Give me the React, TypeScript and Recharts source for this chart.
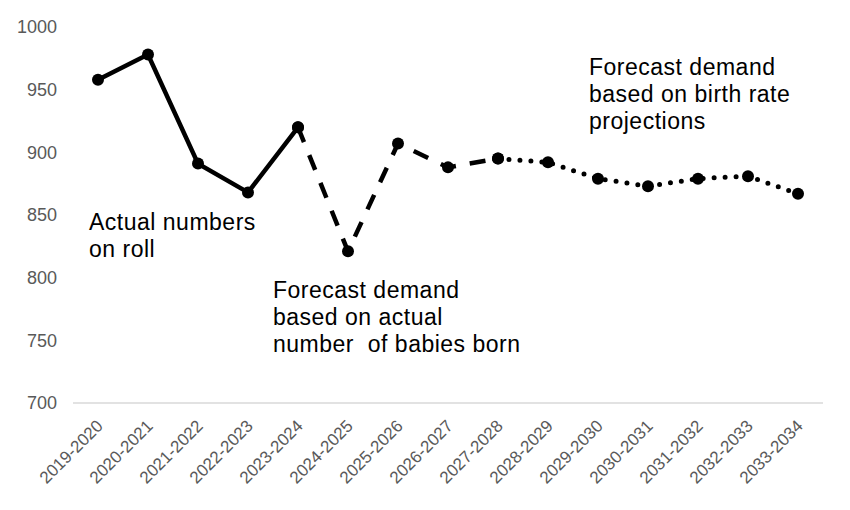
import React from 'react';
import { LineChart, Line, XAxis, YAxis } from 'recharts';

const categories = ['2019-2020','2020-2021','2021-2022','2022-2023','2023-2024','2024-2025','2025-2026','2026-2027','2027-2028','2028-2029','2029-2030','2030-2031','2031-2032','2032-2033','2033-2034'];
const actualRoll = [958, 978, 891, 868, 920, null, null, null, null, null, null, null, null, null, null];
const forecastBabies = [null, null, null, null, 920, 821, 907, 888, 895, null, null, null, null, null, null];
const forecastProjections = [null, null, null, null, null, null, null, null, 895, 892, 879, 873, 879, 881, 867];
const yTicks = [700, 750, 800, 850, 900, 950, 1000];

const data = categories.map((c, i) => ({
  cat: c,
  actual: actualRoll[i],
  babies: forecastBabies[i],
  proj: forecastProjections[i],
}));

const FONT = '"Liberation Sans", Arial, sans-serif';

const Dot = (props: any) => {
  const { cx, cy, value, index } = props;
  if (cx == null || cy == null || value == null) return <g key={`e${index}`} />;
  return <circle key={`d${index}`} cx={cx} cy={cy} r={6} fill="#000" stroke="none" />;
};

const XTick = (props: any) => {
  const { x, y, payload } = props;
  const ax = x + 6;
  const ay = y + 16;
  return (
    <text x={ax} y={ay} transform={`rotate(-45, ${ax}, ${ay})`} textAnchor="end" fill="#595959" fontSize={17} fontFamily={FONT}>
      {payload.value}
    </text>
  );
};

const Annot = ({ x, y, lines }: { x: number; y: number; lines: string[] }) => (
  <text x={x} y={y} fontSize={23} fontFamily={FONT} fill="#000" letterSpacing={0.5}>
    {lines.map((l, i) => (
      <tspan key={i} x={x} dy={i === 0 ? 0 : 27} style={{ whiteSpace: 'pre' }}>{l}</tspan>
    ))}
  </text>
);

export default function App() {
  return (
    <div style={{ position: 'absolute', left: 0, top: 0, width: 850, height: 510, background: '#fff' }}>
      <LineChart width={850} height={510} data={data} margin={{ top: 27, right: 27, bottom: 0, left: 0 }}>
        <XAxis
          dataKey="cat"
          interval={0}
          padding={{ left: 25, right: 25 }}
          axisLine={{ stroke: '#d9d9d9', strokeWidth: 1.5 }}
          tickLine={false}
          height={107}
          tick={<XTick />}
        />
        <YAxis
          domain={[700, 1000]}
          ticks={yTicks}
          axisLine={false}
          tickLine={false}
          width={73}
          tickMargin={10}
          tick={{ fill: '#595959', fontSize: 18, fontFamily: FONT }}
        />
        <Line dataKey="actual" stroke="#000" strokeWidth={4.5} dot={<Dot />} activeDot={false} connectNulls={false} isAnimationActive={false} />
        <Line dataKey="babies" stroke="#000" strokeWidth={4.5} strokeDasharray="16 14" dot={<Dot />} activeDot={false} connectNulls={false} isAnimationActive={false} />
        <Line dataKey="proj" stroke="#000" strokeWidth={5} strokeLinecap="round" strokeDasharray="0 11" dot={<Dot />} activeDot={false} connectNulls={false} isAnimationActive={false} />
      </LineChart>
      <svg width={850} height={510} style={{ position: 'absolute', left: 0, top: 0, pointerEvents: 'none' }}>
        <Annot x={89} y={230} lines={['Actual numbers', 'on roll']} />
        <Annot x={273} y={298} lines={['Forecast demand', 'based on actual', 'number  of babies born']} />
        <Annot x={589} y={75} lines={['Forecast demand', 'based on birth rate', 'projections']} />
      </svg>
    </div>
  );
}
